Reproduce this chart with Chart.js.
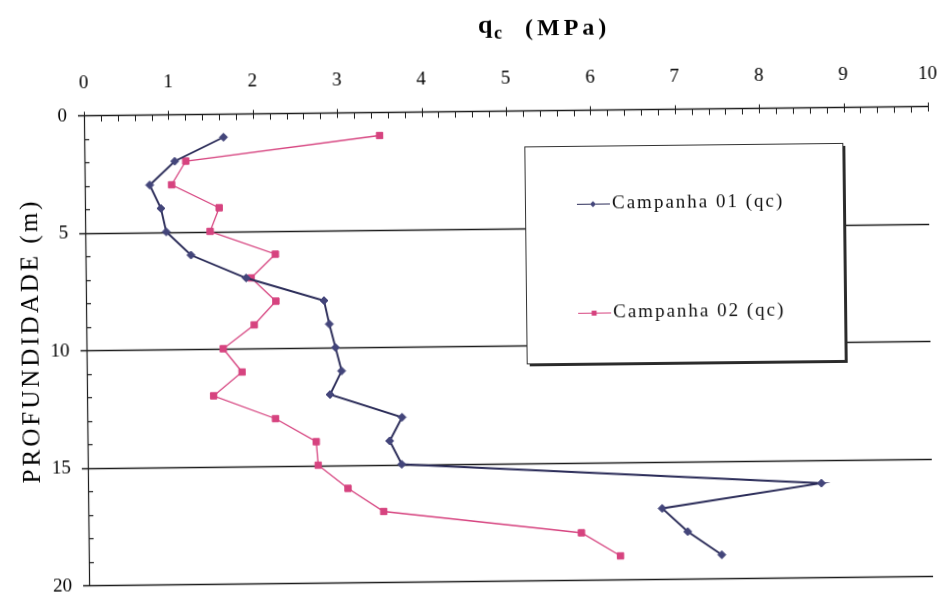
<!DOCTYPE html>
<html>
<head>
<meta charset="utf-8">
<title>Ensaio CPT - qc x profundidade</title>
<script src="https://cdn.jsdelivr.net/npm/chart.js@4.4.1/dist/chart.umd.min.js"></script>
<style>
  html, body { margin: 0; padding: 0; background: #fff; overflow: hidden; }
  /* the printed sheet sits slightly tilted */
  #wrap { width: 944px; height: 599px; transform: rotate(-0.63deg); transform-origin: 472px 300px; }
  canvas { display: block; }
</style>
</head>
<body>
<div id="wrap"><canvas id="chart" width="944" height="599"></canvas></div>
<script>
  "use strict";

  /* ---- data ---- */
  var depths = [1, 2, 3, 4, 5, 6, 7, 8, 9, 10, 11, 12, 13, 14, 15, 16, 17, 18, 19];
  var campanha01 = [1.65, 1.07, 0.77, 0.90, 0.96, 1.25, 1.90, 2.82, 2.88, 2.95, 3.02, 2.88, 3.73, 3.58, 3.72, 8.69, 6.80, 7.10, 7.50];
  var campanha02 = [3.50, 1.20, 1.03, 1.59, 1.48, 2.25, 1.96, 2.25, 1.99, 1.62, 1.84, 1.50, 2.23, 2.71, 2.73, 3.08, 3.50, 5.84, 6.30];
  var seriesNames = ["Campanha 01 (qc)", "Campanha 02 (qc)"];
  var xTicks = [0, 1, 2, 3, 4, 5, 6, 7, 8, 9, 10];
  var yTicks = [0, 5, 10, 15, 20];
  var yMinorStep = 1;
  var xMinorStep = 0.2;

  var BLUE = "#2a2b58";
  var BLUE_PT = "#43457a";
  var PINK = "#d6437f";
  var SERIF = '"Liberation Serif", "DejaVu Serif", serif';

  function points(values) {
    return depths.map(function (d, i) { return { x: values[i], y: d }; });
  }

  /* ---- axes, tick marks, titles ---- */
  var axesPlugin = {
    id: "cptAxes",
    beforeDatasetsDraw: function (chart) {
      var ctx = chart.ctx, a = chart.chartArea;
      var xs = chart.scales.x, ys = chart.scales.y;
      ctx.save();
      ctx.strokeStyle = "#1c1c1c";

      // horizontal depth lines
      ctx.lineWidth = 1.4;
      yTicks.forEach(function (v) {
        var py = Math.round(ys.getPixelForValue(v)) + 0.5;
        ctx.beginPath();
        ctx.moveTo(a.left - 6, py);
        ctx.lineTo(a.right, py);
        ctx.stroke();
      });

      // left axis + minor depth ticks (inward)
      ctx.lineWidth = 1.2;
      ctx.beginPath();
      ctx.moveTo(a.left + 0.5, a.top);
      ctx.lineTo(a.left + 0.5, a.bottom);
      ctx.stroke();
      for (var d = ys.min; d <= ys.max; d += yMinorStep) {
        if (yTicks.indexOf(d) !== -1) continue;
        var my = Math.round(ys.getPixelForValue(d)) + 0.5;
        ctx.beginPath();
        ctx.moveTo(a.left, my);
        ctx.lineTo(a.left + 5, my);
        ctx.stroke();
      }

      // top axis ticks: majors cross the line, minors hang below
      ctx.lineWidth = 1;
      var top = Math.round(a.top) + 0.5;
      var n = Math.round((xs.max - xs.min) / xMinorStep);
      for (var i = 0; i <= n; i++) {
        var v = xs.min + i * xMinorStep;
        var px = Math.round(xs.getPixelForValue(v)) + 0.5;
        var major = i % Math.round(1 / xMinorStep) === 0;
        ctx.beginPath();
        ctx.moveTo(px, major ? top - 4 : top);
        ctx.lineTo(px, top + (major ? 5 : 6));
        ctx.stroke();
      }

      // tick labels
      ctx.fillStyle = "#000";
      ctx.font = "19px " + SERIF;
      ctx.textAlign = "center";
      ctx.textBaseline = "middle";
      xTicks.forEach(function (v) {
        ctx.fillText(String(v), xs.getPixelForValue(v), 79);
      });
      ctx.textAlign = "right";
      yTicks.forEach(function (v) {
        ctx.fillText(String(v), a.left - 17, ys.getPixelForValue(v) + 1);
      });

      // depth title
      ctx.save();
      ctx.translate(31, 336);
      ctx.rotate(-Math.PI / 2);
      ctx.font = "25px " + SERIF;
      ctx.letterSpacing = "3px";
      ctx.textAlign = "center";
      ctx.fillText("PROFUNDIDADE (m)", 0, 0);
      ctx.restore();

      // qc (MPa) with subscript
      ctx.textAlign = "left";
      ctx.textBaseline = "alphabetic";
      ctx.font = "bold 26px " + SERIF;
      ctx.fillText("q", 481, 33);
      ctx.font = "bold 18px " + SERIF;
      ctx.fillText("c", 497, 39);
      ctx.font = "bold 24px " + SERIF;
      ctx.letterSpacing = "4px";
      ctx.fillText("(MPa)", 528, 36);
      ctx.restore();
    },

    /* boxed legend with drop shadow */
    afterDraw: function (chart) {
      var ctx = chart.ctx;
      var bx = 526, by = 147, bw = 318, bh = 217;
      ctx.save();
      ctx.fillStyle = "#2a2a2a";
      ctx.fillRect(bx + 3, by + 3, bw, bh);
      ctx.fillStyle = "#fff";
      ctx.fillRect(bx, by, bw, bh);
      ctx.strokeStyle = "#333";
      ctx.lineWidth = 1;
      ctx.strokeRect(bx + 0.5, by + 0.5, bw, bh);

      var rows = [205, 314];
      chart.data.datasets.forEach(function (ds, k) {
        var ry = rows[k];
        ctx.strokeStyle = ds.borderColor;
        ctx.lineWidth = 1;
        ctx.beginPath();
        ctx.moveTo(578, ry + 0.5);
        ctx.lineTo(611, ry + 0.5);
        ctx.stroke();
        ctx.fillStyle = ds.pointBackgroundColor;
        Chart.helpers.drawPoint(ctx, {
          pointStyle: ds.pointStyle, radius: ds.pointRadius - 1, rotation: 0,
          borderWidth: 0
        }, 594, ry + 0.5);
        ctx.fillStyle = "#111";
        ctx.font = "19px " + SERIF;
        ctx.letterSpacing = "2px";
        ctx.textAlign = "left";
        ctx.textBaseline = "middle";
        ctx.fillText(ds.label, 613, ry);
        ctx.letterSpacing = "0px";
      });
      ctx.restore();
    }
  };

  new Chart(document.getElementById("chart"), {
    type: "scatter",
    data: {
      datasets: [{
        label: seriesNames[0],
        data: points(campanha01),
        showLine: true,
        borderColor: BLUE,
        borderWidth: 1.9,
        pointStyle: "rectRot",
        pointRadius: 4,
        pointBackgroundColor: BLUE_PT,
        pointBorderColor: BLUE_PT,
        pointBorderWidth: 1
      }, {
        label: seriesNames[1],
        data: points(campanha02),
        showLine: true,
        borderColor: PINK,
        borderWidth: 1.3,
        pointStyle: "rect",
        pointRadius: 4.5,
        pointBackgroundColor: PINK,
        pointBorderColor: PINK,
        pointBorderWidth: 1
      }]
    },
    options: {
      responsive: false,
      animation: false,
      devicePixelRatio: 1,
      layout: { padding: { left: 86, top: 111, right: 14, bottom: 18 } },
      scales: {
        x: { type: "linear", min: 0, max: 10, display: false },
        y: { type: "linear", min: 0, max: 20, reverse: true, display: false }
      },
      plugins: {
        legend: { display: false },
        tooltip: { enabled: false }
      }
    },
    plugins: [axesPlugin]
  });
</script>
</body>
</html>
